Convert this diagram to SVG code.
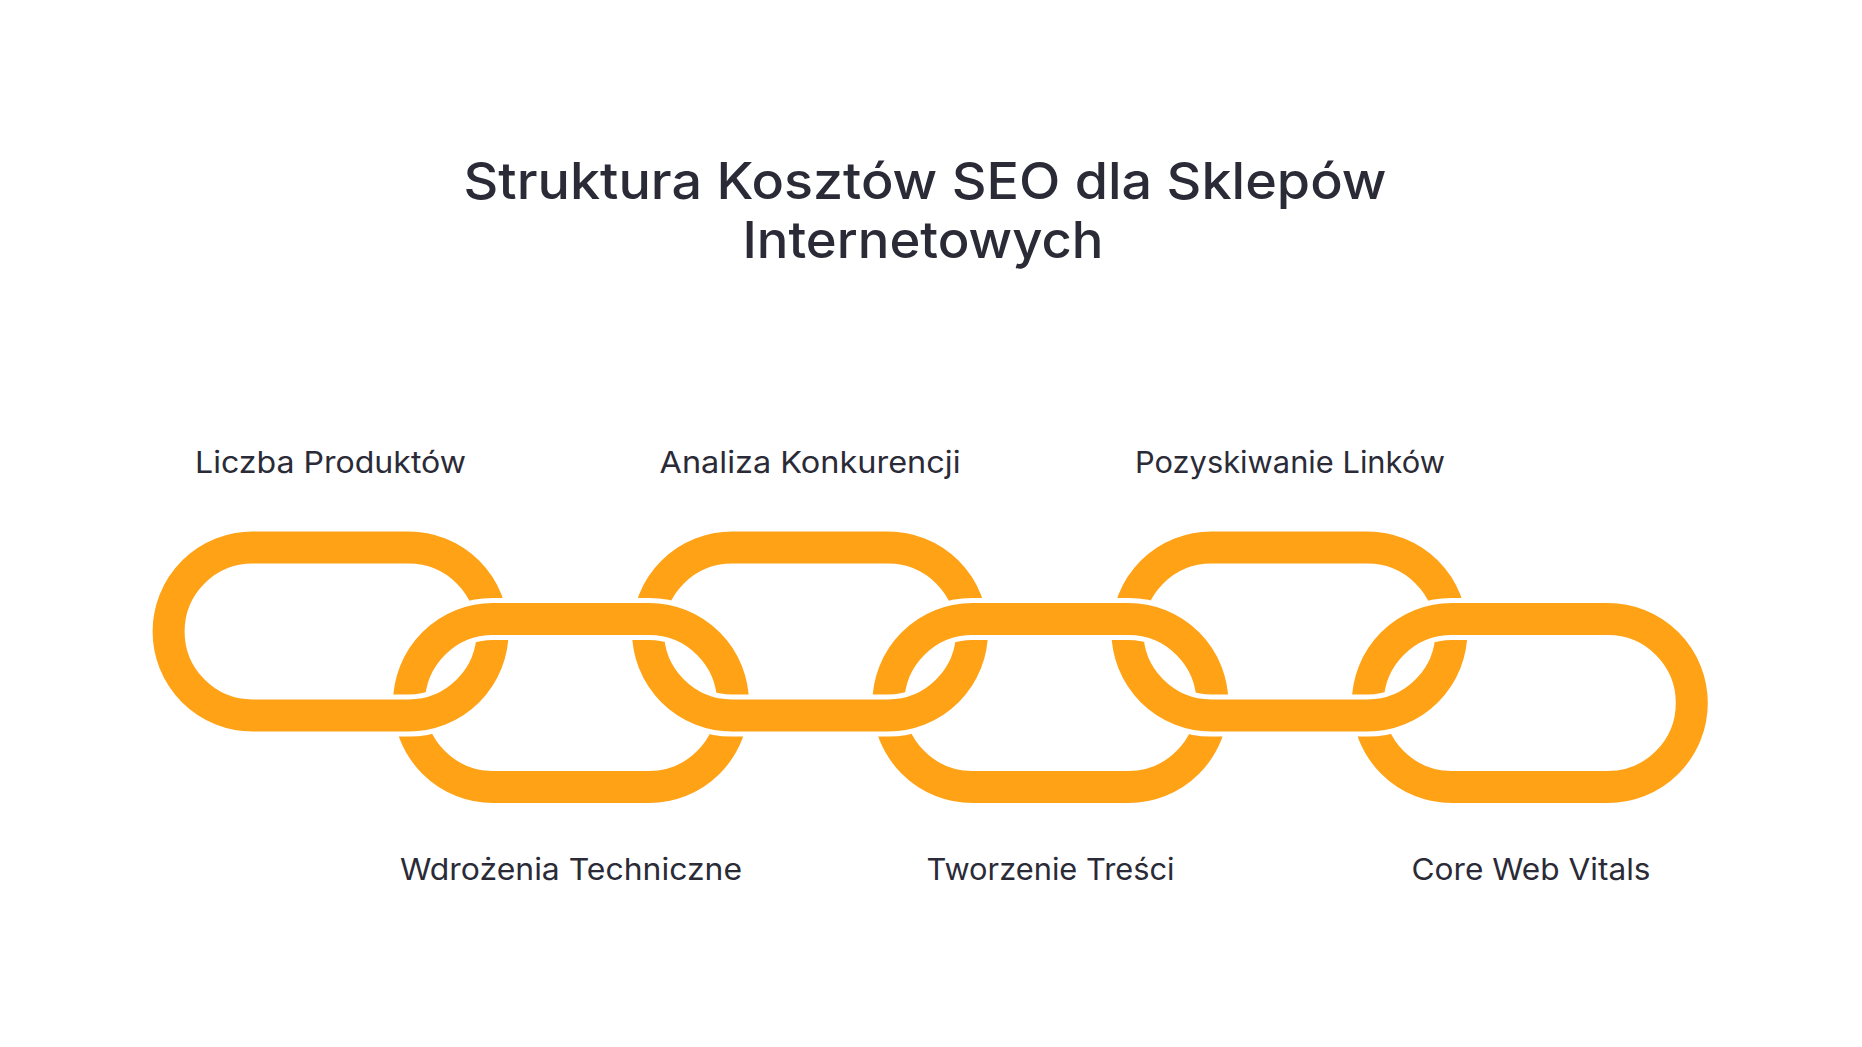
<svg xmlns="http://www.w3.org/2000/svg" xmlns:xlink="http://www.w3.org/1999/xlink" width="1862" height="1047" viewBox="0 0 1862 1047">
  <style>
    .title { font-family: Inter, "Noto Sans", "Liberation Sans", sans-serif; font-weight: 500; font-size: 51px; fill: #2b2b37; text-anchor: middle; }
    .label { font-family: Inter, "Noto Sans", "Liberation Sans", sans-serif; font-weight: 400; font-size: 30px; fill: #2b2b37; text-anchor: middle; }
    .ring { fill: none; stroke: #FFA216; stroke-width: 32; }
    .gap { fill: none; stroke: #FFFFFF; stroke-width: 42; }
  </style>
  <defs>
    <rect id="link" x="-162" y="-84" width="324" height="168" rx="84" ry="84"/>
    <clipPath id="lowerBand">
      <rect x="0" y="667" width="1862" height="95"/>
    </clipPath>
  </defs>
  <rect width="1862" height="1047" fill="#FFFFFF"/>

  <g id="title">
    <text class="title" x="925" y="199" textLength="923" lengthAdjust="spacingAndGlyphs">Struktura Kosztów SEO dla Sklepów</text>
    <text class="title" x="923" y="258" textLength="361" lengthAdjust="spacingAndGlyphs">Internetowych</text>
  </g>

  <g id="node-liczba-produktow">
    <use xlink:href="#link" href="#link" x="330.6" y="631.5" class="ring"/>
    <text class="label" x="330.5" y="473" textLength="271" lengthAdjust="spacingAndGlyphs">Liczba Produktów</text>
  </g>
  <g id="node-analiza-konkurencji">
    <use xlink:href="#link" href="#link" x="810" y="631.5" class="ring"/>
    <text class="label" x="810" y="473" textLength="301" lengthAdjust="spacingAndGlyphs">Analiza Konkurencji</text>
  </g>
  <g id="node-pozyskiwanie-linkow">
    <use xlink:href="#link" href="#link" x="1289.4" y="631.5" class="ring"/>
    <text class="label" x="1290" y="473" textLength="310" lengthAdjust="spacingAndGlyphs">Pozyskiwanie Linków</text>
  </g>

  <g id="node-wdrozenia-techniczne">
    <use xlink:href="#link" href="#link" x="571" y="703" class="gap"/>
    <use xlink:href="#link" href="#link" x="571" y="703" class="ring"/>
    <text class="label" x="571" y="880" textLength="342" lengthAdjust="spacingAndGlyphs">Wdrożenia Techniczne</text>
  </g>
  <g id="node-tworzenie-tresci">
    <use xlink:href="#link" href="#link" x="1050.4" y="703" class="gap"/>
    <use xlink:href="#link" href="#link" x="1050.4" y="703" class="ring"/>
    <text class="label" x="1050.5" y="880" textLength="248" lengthAdjust="spacingAndGlyphs">Tworzenie Treści</text>
  </g>
  <g id="node-core-web-vitals">
    <use xlink:href="#link" href="#link" x="1529.8" y="703" class="gap"/>
    <use xlink:href="#link" href="#link" x="1529.8" y="703" class="ring"/>
    <text class="label" x="1531" y="880" textLength="239" lengthAdjust="spacingAndGlyphs">Core Web Vitals</text>
  </g>

  <g id="connectors" clip-path="url(#lowerBand)">
    <use xlink:href="#link" href="#link" x="330.6" y="631.5" class="gap"/>
    <use xlink:href="#link" href="#link" x="330.6" y="631.5" class="ring"/>
    <use xlink:href="#link" href="#link" x="810" y="631.5" class="gap"/>
    <use xlink:href="#link" href="#link" x="810" y="631.5" class="ring"/>
    <use xlink:href="#link" href="#link" x="1289.4" y="631.5" class="gap"/>
    <use xlink:href="#link" href="#link" x="1289.4" y="631.5" class="ring"/>
  </g>
</svg>
